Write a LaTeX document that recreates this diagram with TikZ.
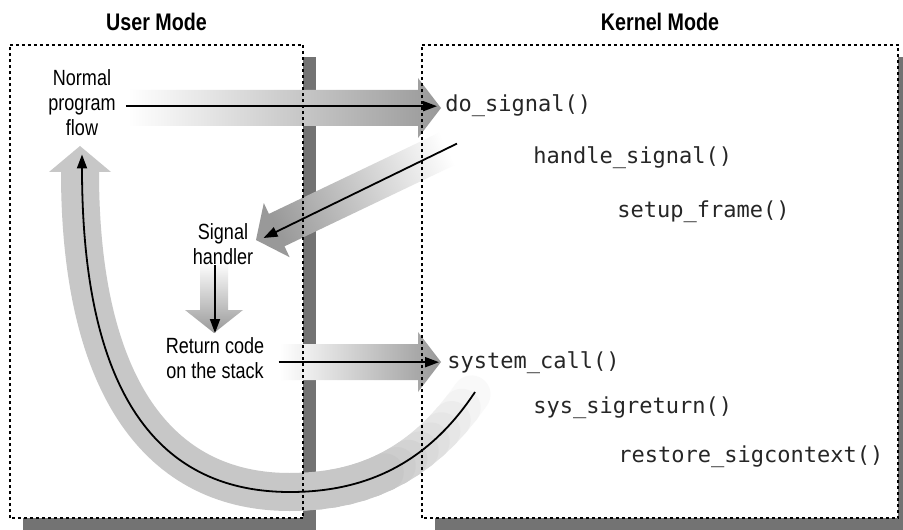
\documentclass[tikz,border=0pt]{standalone}
\usepackage{fontspec}
\newfontfamily\labelfont[FakeStretch=0.82]{Liberation Sans}
\newfontfamily\codefont{DejaVu Sans Mono}
\usetikzlibrary{arrows.meta,positioning,calc,shadows}

\begin{document}
\begin{tikzpicture}[
  x=0.5pt,y=-0.5pt,
  panel/.style={fill=white, minimum height=236.5pt, inner sep=0pt, drop shadow={shadow xshift=6.5pt, shadow yshift=-6pt, fill=black!55, opacity=1}},
  rim/.style={draw=black, line width=1pt, dash pattern=on 1.5pt off 1.5pt},
  title/.style={font=\labelfont\bfseries\fontsize{12}{14}\selectfont, inner sep=0pt},
  lbl/.style={font=\labelfont\fontsize{11}{12.5}\selectfont, align=center, inner sep=0pt},
  code/.style={font=\codefont\fontsize{11}{13}\selectfont, text=black!85, inner sep=0pt, anchor=base west},
  band/.style={draw=none, left color=white, middle color=black!25, right color=black!40},
  flow/.style={-{Triangle[length=7pt,width=5pt]}, draw=black, line width=0.9pt},
  loop/.style={-{Triangle[length=13pt,width=31pt,line width=0pt]}, draw=black!22, line width=19pt}
]
  \useasboundingbox (0,0) rectangle (903,529);

  \node[panel, minimum width=146.5pt] (ubox) at (156.5,281.5) {};
  \node[panel, minimum width=238pt] (kbox) at (660,281.5) {};
  \node[title, above=6.5pt of ubox.north] (utitle) {User Mode};
  \node[title, above=6.5pt of kbox.north] (ktitle) {Kernel Mode};

  % wide gray arrows behind the flow
  \coordinate (back) at (475,392);
  \coordinate (bend) at (290,492);
  \draw[loop] (bend) .. controls +(-140,0) and +(0,227) .. (80,146);
  \path ([shift={(6,-12)}]back) .. controls +(-50,80) and +(80,0) .. (bend)
    foreach \i in {0,...,16} {coordinate[pos=\i/16] (q\i)};
  \foreach \i [count=\j from 0, evaluate=\i as \tone using {22*min(1,(\i-1)/9)}] in {1,...,16}
    \draw[line width=19pt, line cap=round, draw=black!\tone] (q\j) -- (q\i);
  \shade[band] (128,90) -- (418,90) -- (418,78) -- (441,108) -- (418,138) -- (418,126) -- (128,126) -- cycle;
  \shade[band, shading angle=295.5] (455.7,124.7) -- (268.9,213.9) -- (263.8,203.0) -- (256,240) -- (289.6,257.2) -- (284.5,246.3) -- (471.3,157.1) -- cycle;
  \shade[band, shading angle=0] (200,262) -- (200,310) -- (185,310) -- (214,333) -- (243,310) -- (228,310) -- (228,262) -- cycle;
  \shade[band] (280,344) -- (418,344) -- (418,332) -- (441,362) -- (418,392) -- (418,380) -- (280,380) -- cycle;

  \draw[rim] (ubox.south west) rectangle (ubox.north east);
  \draw[rim] (kbox.south west) rectangle (kbox.north east);

  \node[lbl] (flow) at (82,103) {Normal\\program\\flow};
  \node[lbl] (handler) at (223,244) {Signal\\handler};
  \node[lbl] (retcode) at (215,358) {Return code\\on the stack};

  \node[code] (dosig) at (445,112) {do\_signal()};
  \node[code] (hsig) at (533,163) {handle\_signal()};
  \node[code] (setup) at (617,217) {setup\_frame()};
  \node[code] (syscall) at (447,368) {system\_call()};
  \node[code] (sysret) at (533,413) {sys\_sigreturn()};
  \node[code] (restore) at (618,462) {restore\_sigcontext()};

  \draw[flow] ([xshift=5pt]flow.east |- dosig.west) -- ([xshift=-4pt]dosig.west);
  \draw[flow] ([shift={(6pt,-13pt)}]dosig.south west) -- ([xshift=5pt,yshift=3pt]handler.east);
  \draw[flow] (retcode.north |- handler.south) -- ([yshift=2pt]retcode.north);
  \draw[flow] ([xshift=7pt]retcode.east |- syscall.west) -- ([xshift=-4pt]syscall.west);
  \draw[flow] (back) .. controls +(-45,68) and +(80,0) .. (bend) .. controls +(-140,0) and +(0,227) .. ([yshift=-9pt]flow.south);
\end{tikzpicture}
\end{document}
